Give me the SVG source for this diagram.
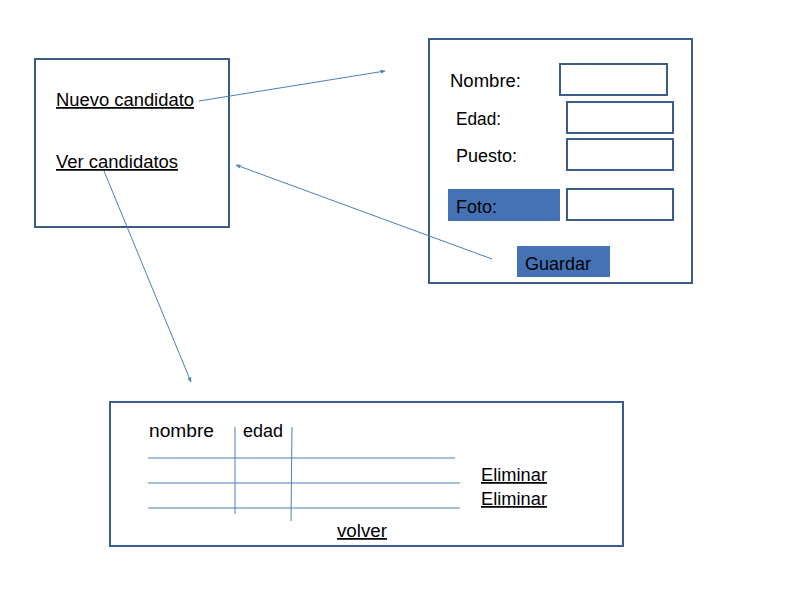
<svg xmlns="http://www.w3.org/2000/svg" width="786" height="589" viewBox="0 0 786 589">
<defs>
<style>
.box{fill:#fff;stroke:#385D8A;stroke-width:2}
.fld{fill:#fff;stroke:#385D8A;stroke-width:2}
.btn{fill:#4472B4;stroke:none}
.t{font-family:"Liberation Sans","Noto Sans",sans-serif;font-size:17.5px;fill:#000}
.u{text-decoration:underline}
.ln{stroke:#4A7EBB;stroke-width:1;fill:none}
.cn{stroke:#4A7EBB;stroke-width:1;fill:none;marker-end:url(#ah)}
</style>
<marker id="ah" viewBox="0 0 10 10" refX="9" refY="5" markerWidth="5" markerHeight="5" orient="auto" markerUnits="userSpaceOnUse">
<path d="M0,1 L10,5 L0,9 z" fill="#4A7EBB"/>
</marker>
</defs>
<rect width="786" height="589" fill="#fff"/>
<g id="menu">
<rect class="box" x="35" y="59" width="194" height="168"/>
<text class="t u" x="56" y="106" textLength="138" lengthAdjust="spacingAndGlyphs">Nuevo candidato</text>
<text class="t u" x="56" y="168" textLength="122" lengthAdjust="spacingAndGlyphs">Ver candidatos</text>
</g>
<g id="form">
<rect class="box" x="429" y="39" width="263" height="244"/>
<text class="t" x="450" y="87" textLength="71" lengthAdjust="spacingAndGlyphs">Nombre:</text>
<rect class="fld" x="560" y="64" width="107" height="31"/>
<text class="t" x="456" y="125" textLength="45" lengthAdjust="spacingAndGlyphs">Edad:</text>
<rect class="fld" x="567" y="102" width="106" height="31"/>
<text class="t" x="456" y="162" textLength="61" lengthAdjust="spacingAndGlyphs">Puesto:</text>
<rect class="fld" x="567" y="139" width="106" height="31"/>
<rect class="btn" x="448" y="189" width="112" height="32"/>
<text class="t" x="456" y="213" textLength="41" lengthAdjust="spacingAndGlyphs">Foto:</text>
<rect class="fld" x="567" y="189" width="106" height="31"/>
<rect class="btn" x="517" y="246" width="93" height="31"/>
<text class="t" x="525" y="270" textLength="66" lengthAdjust="spacingAndGlyphs">Guardar</text>
</g>
<g id="list">
<rect class="box" x="110" y="402" width="513" height="144"/>
<text class="t" x="149" y="437" textLength="65" lengthAdjust="spacingAndGlyphs">nombre</text>
<text class="t" x="243" y="437" textLength="40" lengthAdjust="spacingAndGlyphs">edad</text>
<line class="ln" x1="235" y1="427" x2="235" y2="514"/>
<line class="ln" x1="292" y1="427" x2="291" y2="521"/>
<line class="ln" x1="148" y1="458" x2="455" y2="458"/>
<line class="ln" x1="148" y1="483" x2="460" y2="483"/>
<line class="ln" x1="148" y1="508" x2="460" y2="508"/>
<text class="t u" x="481" y="481" textLength="66" lengthAdjust="spacingAndGlyphs">Eliminar</text>
<text class="t u" x="481" y="505" textLength="66" lengthAdjust="spacingAndGlyphs">Eliminar</text>
<text class="t u" x="337" y="537" textLength="50" lengthAdjust="spacingAndGlyphs">volver</text>
</g>
<g id="connectors">
<line class="cn" x1="199" y1="101" x2="385" y2="71"/>
<line class="cn" x1="492" y1="259" x2="236" y2="165"/>
<line class="cn" x1="104" y1="171" x2="191" y2="382"/>
</g>
</svg>
